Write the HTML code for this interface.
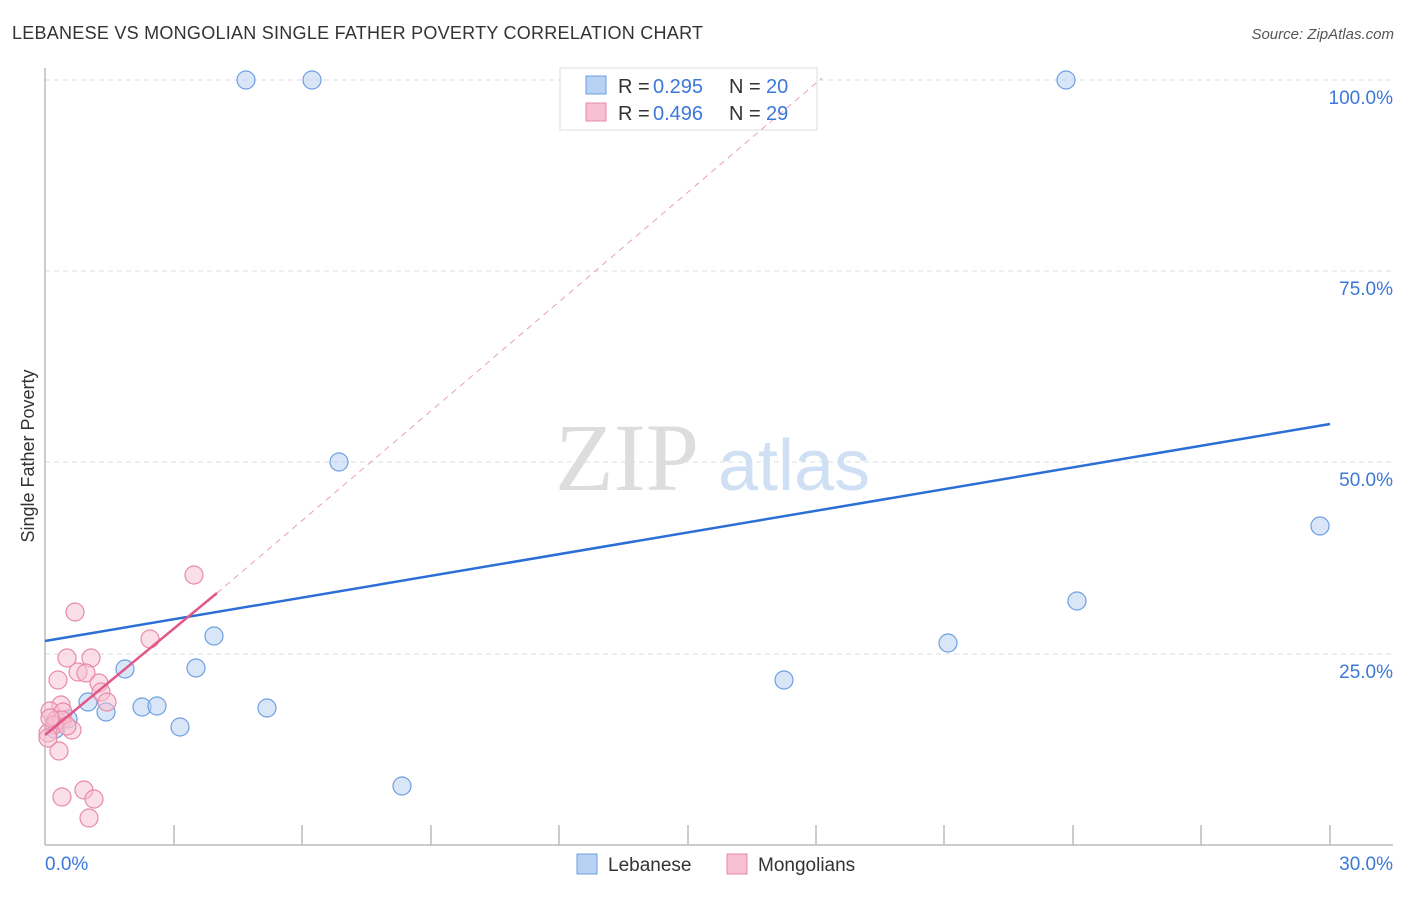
<!DOCTYPE html><html><head><style>body{margin:0;background:#fff;font-family:"Liberation Sans",sans-serif}</style></head><body>
<svg width="1406" height="892" xmlns="http://www.w3.org/2000/svg" font-family="Liberation Sans, sans-serif">
<text x="12" y="39" font-size="18" fill="#333" textLength="691">LEBANESE VS MONGOLIAN SINGLE FATHER POVERTY CORRELATION CHART</text>
<text x="1394" y="39" font-size="15" fill="#555" text-anchor="end" font-style="italic">Source: ZipAtlas.com</text>
<g stroke="#ddd" stroke-dasharray="5,4"><line x1="45" y1="80" x2="1393" y2="80"/><line x1="45" y1="271" x2="1393" y2="271"/><line x1="45" y1="462" x2="1393" y2="462"/><line x1="45" y1="654" x2="1393" y2="654"/></g>
<g stroke="#bbb" stroke-width="1.5"><line x1="45" y1="68" x2="45" y2="845"/><line x1="45" y1="845" x2="1393" y2="845"/>
<path d="M174 825V845M302 825V845M431 825V845M559 825V845M688 825V845M816 825V845M944 825V845M1073 825V845M1201 825V845M1330 825V845"/></g>
<text x="555" y="490" font-size="96" fill="#ddd" font-family="Liberation Serif, serif">ZIP</text>
<text x="718" y="490" font-size="72" fill="#cfe0f5">atlas</text>
<g font-size="19" fill="#3b78d8" text-anchor="end"><text x="1393" y="104">100.0%</text><text x="1393" y="295">75.0%</text><text x="1393" y="486">50.0%</text><text x="1393" y="678">25.0%</text></g>
<text x="45" y="870" font-size="19" fill="#3b78d8">0.0%</text><text x="1393" y="870" font-size="19" fill="#3b78d8" text-anchor="end">30.0%</text>
<text transform="translate(34,456) rotate(-90)" font-size="18" fill="#333" text-anchor="middle">Single Father Poverty</text>
<g fill="#b8d2f3" fill-opacity="0.55" stroke="#6d9fe0" stroke-width="1.2">
<circle cx="246" cy="80" r="9"/><circle cx="312" cy="80" r="9"/><circle cx="1066" cy="80" r="9"/><circle cx="339" cy="462" r="9"/><circle cx="1320" cy="526" r="9"/><circle cx="1077" cy="601" r="9"/><circle cx="948" cy="643" r="9"/><circle cx="214" cy="636" r="9"/><circle cx="125" cy="669" r="9"/><circle cx="196" cy="668" r="9"/><circle cx="784" cy="680" r="9"/><circle cx="88" cy="702" r="9"/><circle cx="106" cy="712" r="9"/><circle cx="142" cy="707" r="9"/><circle cx="157" cy="706" r="9"/><circle cx="267" cy="708" r="9"/><circle cx="180" cy="727" r="9"/><circle cx="402" cy="786" r="9"/><circle cx="68" cy="719" r="9"/><circle cx="55" cy="728" r="10"/></g>
<g fill="#f7c0d2" fill-opacity="0.5" stroke="#e889a8" stroke-width="1.2">
<circle cx="194" cy="575" r="9"/><circle cx="75" cy="612" r="9"/><circle cx="150" cy="639" r="9"/><circle cx="67" cy="658" r="9"/><circle cx="91" cy="658" r="9"/><circle cx="78" cy="672" r="9"/><circle cx="86" cy="673" r="9"/><circle cx="58" cy="680" r="9"/><circle cx="99" cy="683" r="9"/><circle cx="101" cy="692" r="9"/><circle cx="107" cy="702" r="9"/><circle cx="61" cy="705" r="9"/><circle cx="50" cy="711" r="9"/><circle cx="56" cy="720" r="9"/><circle cx="63" cy="712" r="9"/><circle cx="62" cy="720" r="9"/><circle cx="72" cy="730" r="9"/><circle cx="54" cy="725" r="9"/><circle cx="48" cy="733" r="9"/><circle cx="59" cy="751" r="9"/><circle cx="62" cy="797" r="9"/><circle cx="84" cy="790" r="9"/><circle cx="94" cy="799" r="9"/><circle cx="89" cy="818" r="9"/><circle cx="48" cy="738" r="9"/><circle cx="67" cy="726" r="9"/><circle cx="50" cy="718" r="9"/></g>
<line x1="45" y1="641" x2="1330" y2="424" stroke="#2a6fd6" stroke-width="2.5"/>
<rect x="560" y="68" width="257" height="62" fill="#fff" stroke="#ddd"/>
<line x1="217" y1="593" x2="822" y2="78" stroke="#e8a0b5" stroke-width="1" stroke-dasharray="6,5"/>
<line x1="45" y1="735" x2="217" y2="593" stroke="#e0578a" stroke-width="2.5"/>
<rect x="586" y="76" width="20" height="18" fill="#b8d2f3" stroke="#6d9fe0"/><rect x="586" y="103" width="20" height="18" fill="#f7c0d2" stroke="#e889a8"/>
<g font-size="20" fill="#333"><text x="618" y="93">R =</text><text x="618" y="120">R =</text><text x="729" y="93">N =</text><text x="729" y="120">N =</text></g>
<g font-size="20" fill="#3b78d8"><text x="653" y="93">0.295</text><text x="653" y="120">0.496</text><text x="766" y="93">20</text><text x="766" y="120">29</text></g>
<rect x="577" y="854" width="20" height="20" fill="#b8d2f3" stroke="#6d9fe0"/><text x="608" y="871" font-size="19" fill="#333">Lebanese</text>
<rect x="727" y="854" width="20" height="20" fill="#f7c0d2" stroke="#e889a8"/><text x="758" y="871" font-size="19" fill="#333">Mongolians</text>
</svg></body></html>
